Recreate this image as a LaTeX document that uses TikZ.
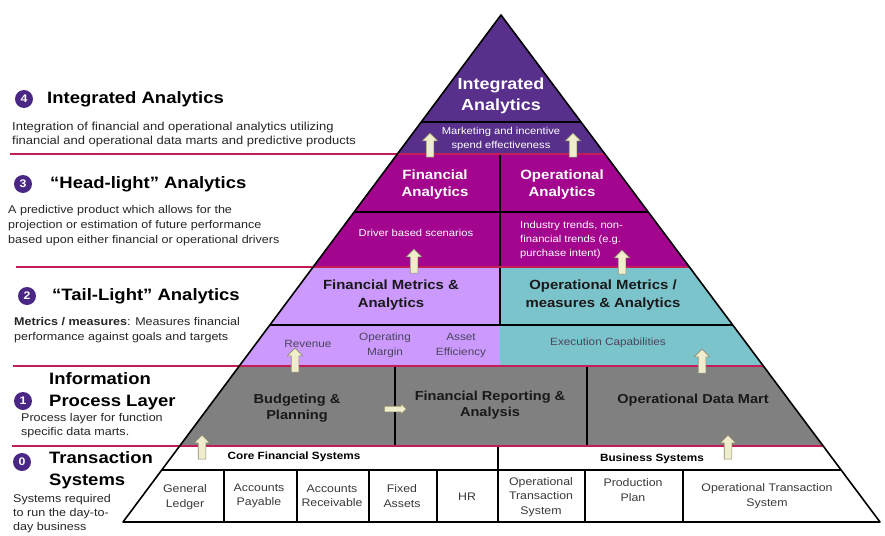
\documentclass[tikz,border=0pt]{standalone}
\usepackage{fontspec}
\setmainfont{Liberation Sans}[FakeStretch=1.12]
\usetikzlibrary{calc,shapes.arrows}
\definecolor{ptop}{HTML}{58308C}
\definecolor{pcirc}{HTML}{4A2785}
\definecolor{pmag}{HTML}{A3058F}
\definecolor{plav}{HTML}{CC99FF}
\definecolor{pteal}{HTML}{7CC4CC}
\definecolor{pgray}{HTML}{808080}
\definecolor{crim}{HTML}{C41C5A}
\definecolor{arrfill}{HTML}{EFEDCB}
\definecolor{arrline}{HTML}{8C8C70}
\definecolor{lavtxt}{HTML}{4A4458}
\definecolor{btxt}{HTML}{3A3A3A}
\newcommand\fsz[2]{\fontsize{#1}{#2}\selectfont}
\tikzset{
  num/.style={circle, fill=pcirc, text=white, font=\fsz{11}{12}\bfseries, minimum size=18, inner sep=0},
  ltitle/.style={anchor=west, inner sep=0, align=left, font=\fsz{16.5}{22}\bfseries, text=black},
  ldesc/.style={anchor=west, inner sep=0, align=left, font=\fsz{11.2}{15}, text=black!85},
  wbig/.style={inner sep=0, align=center, text=white, font=\fsz{13.4}{17}\bfseries},
  wsmall/.style={inner sep=0, align=center, text=white, font=\fsz{10}{14}},
  dbig/.style={inner sep=0, align=center, text=black!90, font=\fsz{13.3}{18}\bfseries},
  lsmall/.style={inner sep=0, align=center, text=lavtxt, font=\fsz{10.5}{15}},
  gbig/.style={inner sep=0, align=center, text=black!90, font=\fsz{13}{16.5}\bfseries},
  bhead/.style={inner sep=0, align=center, text=black, font=\fsz{10.5}{12}\bfseries},
  bcell/.style={inner sep=0, align=center, text=btxt, font=\fsz{11}{14.5}},
  uparr/.style={single arrow, rotate=90, draw=arrline, fill=arrfill, line width=0.6,
    inner xsep=0, inner ysep=3.5, minimum height=24, single arrow head extend=4, single arrow head indent=0},
  rarr/.style={single arrow, draw=arrline, fill=arrfill, line width=0.6,
    inner xsep=0, inner ysep=2.5, minimum height=22, single arrow head extend=2.5, single arrow head indent=0},
  blk/.style={draw=black, line width=1.2},
  crl/.style={draw=crim, line width=1.6},
}
\begin{document}
\begin{tikzpicture}[x=1pt,y=-1pt]
\useasboundingbox (0,0) rectangle (885,535);
\clip (0,0) rectangle (885,535);
\fill[white] (0,0) rectangle (885,535);
\coordinate (A) at (501,15);
\coordinate (BL) at (123,522);
\coordinate (BR) at (880,522);
\foreach \n/\yy in {a/122,b/154,c/212,d/267,e/325,f/366,g/446,h/470}{
  \coordinate (L\n) at ($(A)!{(\yy-15)/507}!(BL)$);
  \coordinate (R\n) at ($(A)!{(\yy-15)/507}!(BR)$);
}
% bands
\fill[ptop] (A) -- (Lb) -- (Rb) -- cycle;
\fill[pmag] (Lb) -- (Rb) -- (Rd) -- (Ld) -- cycle;
\fill[plav] (Ld) -- (500,267) -- (500,366) -- (Lf) -- cycle;
\fill[pteal] (500,267) -- (Rd) -- (Rf) -- (500,366) -- cycle;
\fill[pgray] (Lf) -- (Rf) -- (Rg) -- (Lg) -- cycle;
\fill[white] (Lg) -- (Rg) -- (BR) -- (BL) -- cycle;
% black dividers
\draw[blk] (La) -- (Ra);
\draw[blk] (Lc) -- (Rc);
\draw[blk] (Le) -- (Re);
\draw[blk] (Lh) -- (Rh);
\draw[blk] (500,154) -- (500,267);
\draw[blk] (500,267) -- (500,325);
\draw[blk] (395,366) -- (395,446);
\draw[blk] (587,366) -- (587,446);
\draw[blk] (498,446) -- (498,522);
\foreach \xx in {224,297,369,437,585,683}{ \draw[blk] (\xx,470) -- (\xx,522); }
% crimson level lines
\draw[crl] (10,154) -- (Rb);
\draw[crl] (16,267) -- (Rd);
\draw[crl] (13,366) -- (Rf);
\draw[crl] (12,446) -- (Rg);
% outline
\draw[line width=1.6, line join=round] (A) -- (BL) -- (BR) -- cycle;

% left texts
\node[num] (c4) at (24,99) {4};
\node[ltitle] (t4) at (47,99) {Integrated Analytics};
\node[ldesc, font=\fsz{11.6}{14}] (d4) at (12,134) {Integration of financial and operational analytics utilizing\\financial and operational data marts and predictive products};
\node[num] (c3) at (23,184) {3};
\node[ltitle] (t3) at (50,184) {“Head-light” Analytics};
\node[ldesc] (d3) at (8,226) {A predictive product which allows for the\\projection or estimation of future performance\\based upon either financial or operational drivers};
\node[num] (c2) at (27,296) {2};
\node[ltitle] (t2) at (52,296) {“Tail-Light” Analytics};
\node[ldesc] (d2) at (14,330) {\textbf{Metrics / measures}: Measures financial\\performance against goals and targets};
\node[num] (c1) at (23,401) {1};
\node[ltitle, font=\fsz{16.5}{22}\bfseries] (t1) at (49,391) {Information\\Process Layer};
\node[ldesc, font=\fsz{11.2}{14}] (d1) at (21,426) {Process layer for function\\specific data marts.};
\node[num] (c0) at (22,462) {0};
\node[ltitle] (t0) at (49,470) {Transaction\\Systems};
\node[ldesc, font=\fsz{11.2}{14}] (d0) at (13,514) {Systems required\\to run the day-to-\\day business};

% pyramid texts
\node[wbig, font=\fsz{16}{21}\bfseries] (ia) at (501,96) {Integrated\\Analytics};
\node[wsmall] (mk) at (501,139) {Marketing and incentive\\spend effectiveness};
\node[wbig] (fa) at (435,185) {Financial\\Analytics};
\node[wbig] (oa) at (562,185) {Operational\\Analytics};
\node[wsmall] (ds) at (416,233) {Driver based scenarios};
\node[wsmall, anchor=west, align=left] (it) at (520,240) {Industry trends, non-\\financial trends (e.g.\\purchase intent)};
\node[dbig] (fm) at (391,295) {Financial Metrics \&\\Analytics};
\node[dbig] (om) at (603,295) {Operational Metrics /\\measures \& Analytics};
\node[lsmall] (rv) at (308,344) {Revenue};
\node[lsmall] (opm) at (385,345) {Operating\\Margin};
\node[lsmall] (ae) at (461,345) {Asset\\Efficiency};
\node[lsmall] (ec) at (608,343) {Execution Capabilities};
\node[gbig] (bp) at (297,408) {Budgeting \&\\Planning};
\node[gbig] (fr) at (490,405) {Financial Reporting \&\\Analysis};
\node[gbig] (od) at (693,400) {Operational Data Mart};
\node[bhead] (cfs) at (294,457) {Core Financial Systems};
\node[bhead] (bs) at (652,459) {Business Systems};
\node[bcell] (gl) at (185,497) {General\\Ledger};
\node[bcell] (ap) at (259,496) {Accounts\\Payable};
\node[bcell] (ar) at (332,496) {Accounts\\Receivable};
\node[bcell] (fx) at (402,496) {Fixed\\Assets};
\node[bcell] (hr) at (467,497) {HR};
\node[bcell] (ot1) at (541,497) {Operational\\Transaction\\System};
\node[bcell] (pp) at (633,490) {Production\\Plan};
\node[bcell] (ot2) at (767,496) {Operational Transaction\\System};

% block arrows
\node[uparr] (u1) at (430,147) {};
\node[uparr] (u2) at (573,147) {};
\node[uparr] (u3) at (414,263) {};
\node[uparr] (u4) at (622,264) {};
\node[uparr] (u5) at (295,362) {};
\node[uparr] (u6) at (702,363) {};
\node[uparr] (u7) at (202,449) {};
\node[uparr] (u8) at (728,449) {};
\node[rarr] (ra) at (394,409) {};
\end{tikzpicture}
\end{document}
